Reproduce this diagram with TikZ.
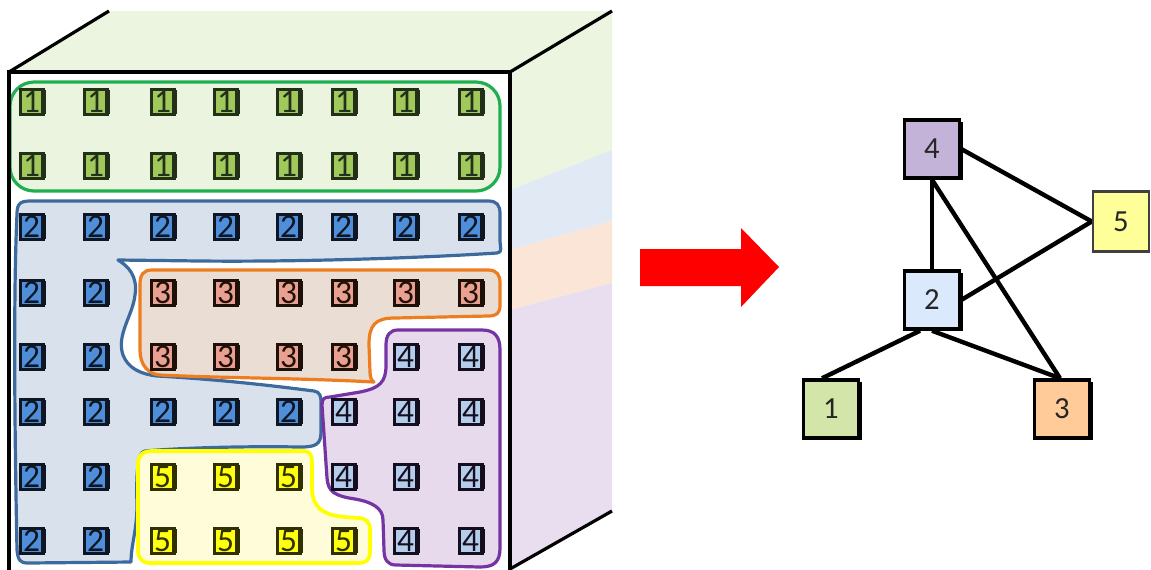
\documentclass[tikz,border=0pt]{standalone}
\usepackage{fontspec}
\setmainfont{Carlito}
\usetikzlibrary{shadows,calc,backgrounds}

% faces of the block
\definecolor{faceG}{HTML}{EBF5E0}
\definecolor{faceB}{HTML}{E1E9F5}
\definecolor{faceO}{HTML}{FBE5D6}
\definecolor{faceP}{HTML}{E8DEEF}
% region fills and outlines
\definecolor{regG}{HTML}{EAF4DF}
\definecolor{regB}{HTML}{D9E1EC}
\definecolor{regO}{HTML}{EADDD3}
\definecolor{regP}{HTML}{E6DAEC}
\definecolor{regY}{HTML}{FFFDD9}
\definecolor{lineG}{HTML}{1FAF50}
\definecolor{lineB}{HTML}{3D6A9C}
\definecolor{lineO}{HTML}{ED7D1F}
\definecolor{lineP}{HTML}{7434A3}
\definecolor{lineY}{HTML}{FFFF00}
% labelled cells
\definecolor{cin1}{HTML}{A0C85A}
\definecolor{cin2}{HTML}{4F8FDA}
\definecolor{cin3}{HTML}{E9A090}
\definecolor{cin4}{HTML}{B4CDEA}
\definecolor{cin5}{HTML}{FFFF10}
\definecolor{cdk1}{HTML}{22301A}
\definecolor{cdk2}{HTML}{0D1622}
\definecolor{cdk3}{HTML}{1E1008}
\definecolor{cdk4}{HTML}{140E20}
\definecolor{cdk5}{HTML}{303000}
% graph nodes
\definecolor{g1}{HTML}{D4E5AA}
\definecolor{g2}{HTML}{DAE9FC}
\definecolor{g3}{HTML}{FFCC99}
\definecolor{g4}{HTML}{C3B3D9}
\definecolor{g5}{HTML}{FFFF99}
\definecolor{numtext}{HTML}{262626}

\begin{document}
\begin{tikzpicture}[x=0.75pt,y=-0.75pt,
  cubeline/.style={line width=3pt,black},
  cubediag/.style={line width=2.4pt,black},
  region/.style={line width=2.4pt,line join=round},
  cell/.style={shape=rectangle,inner sep=0pt,minimum width=16.9pt,minimum height=18.4pt,
    line width=2.6pt,fill=cin#1,draw=cdk#1,text=cdk#1,
    font=\fontsize{25}{25}\selectfont,
    drop shadow={shadow xshift=2.2pt,shadow yshift=0pt,fill=cdk#1,opacity=1}},
  gnode/.style={shape=rectangle,inner sep=0pt,minimum width=41.25pt,minimum height=43.5pt,
    line width=2.6pt,draw=black,text=numtext,font=\fontsize{23}{23}\selectfont,
    drop shadow={shadow xshift=2.25pt,shadow yshift=-1.5pt,fill=black,opacity=1}},
  gnodethin/.style={shape=rectangle,inner sep=0pt,minimum width=42pt,minimum height=45pt,
    line width=1.9pt,draw=black!75,text=numtext,font=\fontsize{23}{23}\selectfont},
  edge/.style={line width=3.3pt,black}]
\useasboundingbox (0,0) rectangle (1151,569);
\clip (0,0) rectangle (1151,569);

% top face and coloured bands of the side face
\fill[faceG] (9,72) -- (109,11) -- (612,11) -- (510,72) -- cycle;
\fill[faceG] (510,72) -- (612,11) -- (612,150) -- (510,190) -- cycle;
\fill[faceB] (510,190) -- (612,150) -- (612,221) -- (510,250) -- cycle;
\fill[faceO] (510,250) -- (612,221) -- (612,283) -- (510,310) -- cycle;
\fill[faceP] (510,310) -- (612,283) -- (612,511) -- (510,569) -- cycle;

% region 1
\draw[region,draw=lineG,fill=regG,rounded corners=18] (10,82) rectangle (500,191);

% region 2
\draw[region,draw=lineB,fill=regB]
  (17,214) .. controls (17,204) and (20,201) .. (30,201)
  -- (488,201) .. controls (497,201) and (500,205) .. (500,214)
  -- (500,240) .. controls (500,248) and (503,252) .. (497,253)
  .. controls (420,258) and (300,262) .. (200,261)
  -- (118,260)
  .. controls (128,266) and (138,276) .. (135,295)
  .. controls (133,315) and (116,335) .. (123,355)
  .. controls (128,368) and (140,374) .. (157,376)
  .. controls (230,380) and (290,388) .. (314,391)
  .. controls (320,392) and (321,396) .. (321,402)
  -- (321,432) .. controls (321,445) and (315,447) .. (300,447)
  .. controls (240,446) and (180,448) .. (145,451)
  .. controls (138,452) and (136,470) .. (137,505)
  .. controls (137,530) and (131,545) .. (131,562)
  -- (28,563) .. controls (20,563) and (18,560) .. (17,550)
  .. controls (15,450) and (13,300) .. (17,214) -- cycle;

% region 3
\draw[region,draw=lineO,fill=regO]
  (152,270) -- (488,270) .. controls (497,270) and (500,275) .. (500,283)
  -- (500,305) .. controls (500,313) and (497,316) .. (488,316)
  -- (395,318) .. controls (375,318) and (369,325) .. (369,345)
  -- (370,372) .. controls (370,378) and (372,381) .. (374,382)
  .. controls (300,378) and (220,378) .. (160,375)
  .. controls (148,374) and (140,365) .. (140,350)
  -- (140,285) .. controls (140,275) and (143,270) .. (152,270) -- cycle;

% region 4
\draw[region,draw=lineP,fill=regP]
  (398,330) -- (482,330) .. controls (495,330) and (500,337) .. (500,350)
  -- (500,548) .. controls (500,562) and (494,567) .. (480,567)
  -- (396,565) .. controls (388,565) and (384,560) .. (384,550)
  -- (383,520) .. controls (383,508) and (372,502) .. (355,499)
  .. controls (335,496) and (328,492) .. (327,478)
  -- (322,405) .. controls (322,399) and (324,397) .. (330,397)
  -- (360,392) .. controls (380,388) and (386,382) .. (386,365)
  -- (386,345) .. controls (386,335) and (390,330) .. (398,330) -- cycle;

% region 5
\draw[region,line width=2.8pt,draw=lineY,fill=regY]
  (152,451) -- (303,451) .. controls (310,451) and (312,455) .. (312,462)
  -- (312,490) .. controls (313,505) and (320,515) .. (345,517)
  -- (358,518) .. controls (366,518) and (370,522) .. (370,530)
  -- (370,552) .. controls (370,560) and (366,563) .. (358,563)
  -- (150,563) .. controls (142,563) and (138,558) .. (138,550)
  -- (138,465) .. controls (138,456) and (142,451) .. (152,451) -- cycle;

% labelled cells of the front face
\foreach \yy/\vals [count=\r] in {
    102/{1,1,1,1,1,1,1,1},
    166/{1,1,1,1,1,1,1,1},
    227/{2,2,2,2,2,2,2,2},
    293/{2,2,3,3,3,3,3,3},
    357/{2,2,3,3,3,3,4,4},
    412/{2,2,2,2,2,4,4,4},
    477/{2,2,5,5,5,4,4,4},
    541/{2,2,5,5,5,5,4,4}}
  \foreach \d [count=\c] in \vals {
    \pgfmathsetmacro\xx{{33,97,164,227,290,345,407,472}[\c-1]}
    \node[cell=\d] (c-\r-\c) at (\xx-1.5,\yy) {\d};
  };

% block outline
\draw[cubeline] (9,575) -- (9,72) -- (510,72) -- (510,575);
\draw[cubediag] (9,72) -- (109,11);
\draw[cubediag] (510,72) -- (612,11);
\draw[cubediag] (510,569) -- (612,511);

% arrow
\fill[red] (640,249) -- (741,249) -- (741,228) -- (779,267) -- (741,307)
  -- (741,286) -- (640,286) -- cycle;

% graph
\node[gnode,fill=g4] (n4) at (932,149) {4};
\node[gnode,fill=g2] (n2) at (932,300) {2};
\node[gnode,fill=g1] (n1) at (831,409) {1};
\node[gnode,fill=g3] (n3) at (1062,409) {3};
\node[gnodethin,fill=g5] (n5) at (1121,221.5) {5};

\begin{scope}[on background layer]
  \draw[edge] (n4.south) -- (n2.north);
  \draw[edge] (n4.east) -- (n5.west);
  \draw[edge] (n4.south) -- ($(n3.north)+(-2,0)$);
  \draw[edge] (n2.east) -- (n5.west);
  \draw[edge] ($(n2.south)+(-12,0)$) -- ($(n1.north)+(-9,0)$);
  \draw[edge] (n2.south) -- ($(n3.north)+(-2,0)$);
\end{scope}
\end{tikzpicture}
\end{document}
